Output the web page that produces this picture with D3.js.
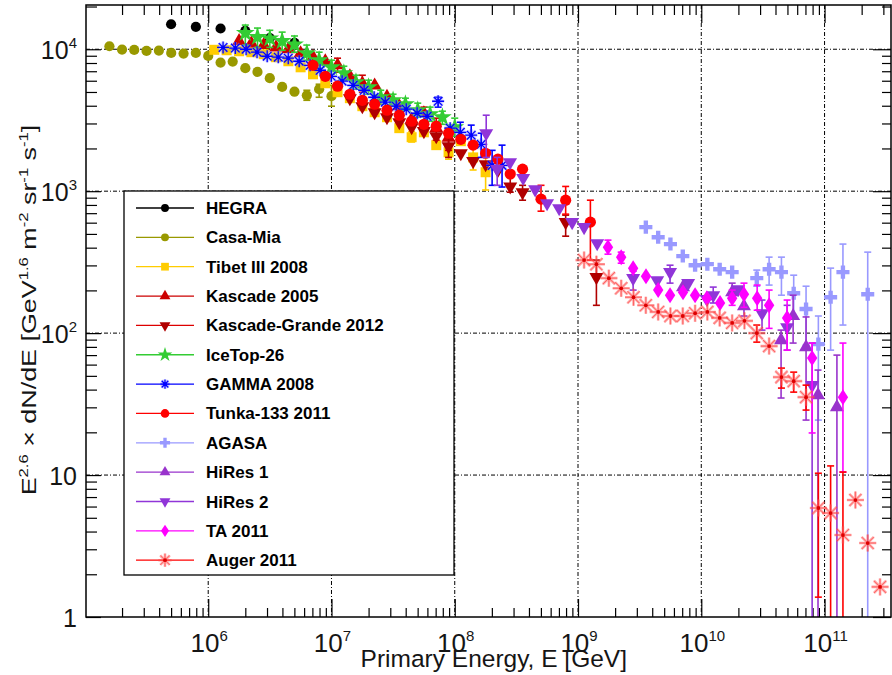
<!DOCTYPE html>
<html>
<head>
<meta charset="utf-8">
<script src="https://cdn.jsdelivr.net/npm/d3@7"></script>
<style>
  body { margin: 0; background: #fff; }
  text { font-family: Arial, "Liberation Sans", sans-serif; }
</style>
</head>
<body>
<div id="chart"></div>
<script>
// each point: [E in GeV, E^2.6 x flux, lower error, upper error]
var hegra = [[5.0e5,1.50e4],[7.94e5,1.44e4],[1.26e6,1.40e4],[2.0e6,1.35e4],[3.16e6,1.20e4],[5.01e6,1.11e4]];

var casaMia = [[1.58e5,1.05e4],[2.0e5,9.95e3],[2.51e5,9.89e3],[3.16e5,9.73e3],[3.98e5,9.79e3],[5.01e5,9.42e3],
  [6.31e5,9.33e3],[7.94e5,9.42e3],[1.0e6,8.97e3],[1.26e6,8.06e3],[1.58e6,8.19e3],[2.0e6,7.35e3],[2.51e6,6.92e3],
  [3.16e6,6.25e3],[3.98e6,5.43e3],[5.01e6,5.02e3],[6.31e6,4.74e3,4.37e3,5.14e3],[7.94e6,5.23e3,4.59e3,5.67e3],
  [1.0e7,4.67e3,3.97e3,5.57e3]];

var tibet = [[1.12e6,9.91e3],[1.41e6,9.84e3],[1.78e6,9.68e3],[2.24e6,9.53e3],[2.82e6,9.23e3],[3.55e6,8.79e3],
  [4.47e6,8.23e3],[5.62e6,7.46e3],[7.08e6,6.66e3],[8.91e6,5.76e3],[1.12e7,4.98e3],[1.41e7,4.52e3],[1.78e7,3.97e3],
  [2.24e7,3.60e3],[2.82e7,3.32e3],[3.55e7,2.78e3],[4.47e7,2.40e3,2.22e3,2.63e3],[5.62e7,2.60e3],[7.08e7,2.11e3],
  [8.91e7,1.88e3,1.68e3,2.07e3],[1.12e8,2.25e3],[1.41e8,1.73e3,1.41e3,2.01e3],[1.78e8,1.36e3,1.02e3,1.94e3]];

var kascade = [[1.78e6,1.14e4],[2.24e6,1.10e4],[2.82e6,1.07e4],[3.55e6,1.03e4],[4.47e6,1.00e4],[5.62e6,9.37e3],
  [7.08e6,8.79e3],[8.91e6,8.23e3],[1.12e7,7.71e3,6.89e3,8.65e3],[1.41e7,6.45e3],[1.78e7,5.73e3,4.98e3,6.56e3],
  [2.24e7,5.55e3],[2.82e7,4.63e3],[3.55e7,3.97e3],[4.47e7,3.20e3],[5.62e7,3.54e3,3.06e3,3.91e3],
  [7.08e7,2.78e3,2.29e3,3.27e3],[8.91e7,2.38e3,1.94e3,2.78e3]];

var kascadeGrande = [[1.41e7,4.52e3],[1.78e7,3.97e3],[2.24e7,3.60e3],[2.82e7,3.32e3],[3.55e7,3.06e3],[4.47e7,2.82e3],
  [5.62e7,2.65e3],[7.08e7,2.44e3],[8.91e7,2.07e3,1.73e3,2.56e3],[1.12e8,1.85e3],[1.41e8,1.63e3],[1.78e8,1.55e3],
  [2.24e8,1.41e3],[2.82e8,1.08e3,9.84e2,1.30e3],[3.55e8,9.84e2,8.64e2,1.10e3],[7.94e8,6.05e2,4.82e2,6.78e2],
  [1.41e9,2.48e2,1.57e2,3.27e2]];

var iceTop = [[2.0e6,1.30e4,1.07e4,1.48e4],[2.51e6,1.22e4,1.03e4,1.41e4],[3.16e6,1.19e4,1.03e4,1.36e4],
  [3.98e6,1.14e4,9.84e3,1.32e4],[5.01e6,1.08e4,9.53e3,1.24e4],[6.31e6,9.37e3,8.37e3,1.07e4],[7.94e6,8.37e3,7.35e3,9.53e3],
  [1.0e7,7.46e3,6.66e3,8.37e3],[1.26e7,6.78e3,6.05e3,7.59e3],[1.58e7,5.86e3,5.23e3,6.56e3],[2.0e7,5.40e3,4.82e3,6.05e3],
  [2.51e7,4.59e3,4.10e3,5.14e3],[3.16e7,4.37e3,3.97e3,4.82e3],[3.98e7,4.10e3,3.72e3,4.52e3],[5.01e7,3.72e3,3.32e3,4.17e3],
  [6.31e7,3.48e3,3.11e3,3.91e3],[7.94e7,3.32e3,2.96e3,3.66e3],[1.0e8,2.82e3,2.44e3,3.27e3]];

var gamma = [[1.32e6,1.03e4],[1.66e6,1.02e4],[2.03e6,1.0e4],[2.49e6,9.53e3],[3.01e6,8.93e3],[3.70e6,8.79e3],
  [4.46e6,8.65e3],[5.47e6,8.23e3],[6.71e6,7.71e3],[8.09e6,7.11e3],[9.95e6,6.45e3],[1.22e7,5.96e3],[1.50e7,5.57e3],
  [1.84e7,5.14e3],[2.22e7,4.59e3],[2.73e7,4.24e3],[3.35e7,3.97e3],[4.04e7,3.78e3],[4.95e7,3.54e3],[5.97e7,3.37e3],
  [7.33e7,4.30e3,3.91e3,4.59e3],[9.18e7,2.78e3],[1.11e8,2.60e3,2.29e3,3.06e3],[1.36e8,2.48e3,2.11e3,2.92e3],
  [1.64e8,2.14e3,1.73e3,2.56e3],[2.01e8,1.52e3,1.10e3,1.94e3],[2.42e8,1.52e3,1.07e3,2.11e3]];

var tunka = [[7.08e6,7.71e3],[8.91e6,6.45e3],[1.12e7,5.49e3],[1.41e7,4.82e3],[1.78e7,4.37e3],[2.24e7,4.10e3],
  [2.82e7,3.72e3],[3.55e7,3.43e3],[4.47e7,3.11e3],[5.62e7,2.96e3],[7.08e7,2.87e3],[8.91e7,2.56e3],[1.12e8,2.32e3],
  [1.41e8,2.11e3],[1.78e8,1.85e3],[2.24e8,1.68e3],[2.82e8,1.32e3],[3.55e8,1.43e3],[5.01e8,8.79e2,7.23e2,1.10e3],
  [7.94e8,8.64e2,6.89e2,1.08e3],[1.26e9,6.05e2,3.27e2,8.64e2]];

var agasa = [[3.55e9,5.58e2],[4.47e9,4.74e2],[5.62e9,4.24e2],[7.08e9,3.49e2],[8.91e9,3.01e2],[1.12e10,3.06e2],
  [1.41e10,2.82e2],[1.78e10,2.69e2],[2.82e10,2.44e2,2.14e2,2.78e2],[3.55e10,2.82e2,2.18e2,3.43e2],
  [4.47e10,2.69e2,1.85e2,3.43e2],[5.62e10,1.91e2,1.30e2,2.56e2],[7.08e10,1.48e2,82.3,2.14e2],[8.91e10,83.7,24.4,1.32e2],
  [1.12e11,1.79e2,75.9,2.87e2],[1.41e11,2.69e2,1.14e2,4.24e2],[2.24e11,1.88e2,1,3.72e2]];

var hiRes1 = [[7.11e9,2.11e2],[1.78e10,1.94e2,1.71e2,2.25e2],[2.22e10,1.55e2,1.32e2,1.85e2],[4.44e10,89.3,34.9,1.05e2],
  [5.56e10,1.32e2,85.1,1.85e2],[7.08e10,79.7,24.4,1.30e2],[8.85e10,36.6,1,54.9],[1.26e11,30.1,1,70.0]];

var hiRes2 = [[1.80e8,2.56e3,1.73e3,3.43e3],[2.21e8,1.43e3,1.10e3,1.73e3],[2.81e8,1.60e3],[3.59e8,1.24e3],[4.49e8,1.03e3],
  [5.61e8,8.23e2],[7.03e8,7.59e2],[8.96e8,6.05e2],[1.12e9,5.58e2],[1.43e9,4.30e2],[2.80e9,2.44e2,2.01e2,2.73e2],
  [4.39e9,2.36e2],[5.58e9,2.69e2,2.25e2,3.01e2],[7.82e9,2.25e2],[1.11e10,1.74e2],[1.25e10,1.85e2,1.63e2,2.11e2],
  [1.99e10,2.04e2],[3.11e10,1.38e2,1.05e2,1.71e2],[4.97e10,1.10e2,75.9,1.57e2],[7.93e10,43.0,1,85.1]];

var ta = [[1.75e9,4.03e2,3.60e2,4.52e2],[2.24e9,3.43e2,3.11e2,3.72e2],[2.80e9,2.87e2],[3.56e9,2.52e2],[4.47e9,2.01e2],
  [5.58e9,1.85e2],[7.11e9,1.94e2],[8.91e9,1.85e2],[1.11e10,1.76e2],[1.42e10,1.63e2],[1.78e10,1.76e2,1.57e2,2.01e2],
  [2.22e10,1.88e2,1.52e2,2.25e2],[2.84e10,1.76e2,1.45e2,2.18e2],[3.55e10,1.57e2,1.08e2,2.01e2],
  [4.97e10,1.28e2,75.9,1.71e2],[7.93e10,66.7,19.8,85.1],[1.41e11,35.4,10.5,85.1]];

var auger = [[1.12e9,3.27e2],[1.41e9,3.06e2],[1.78e9,2.44e2],[2.24e9,2.07e2],[2.82e9,1.79e2],[3.55e9,1.57e2],
  [4.47e9,1.41e2],[5.62e9,1.32e2],[7.08e9,1.32e2],[8.91e9,1.38e2],[1.12e10,1.41e2],[1.41e10,1.28e2],[1.78e10,1.18e2],
  [2.24e10,1.22e2],[2.82e10,1.0e2,86.4,1.14e2],[3.55e10,81.0],[4.47e10,49.0,41.0,56.7],[5.62e10,45.9,38.4,53.1],
  [7.08e10,35.4,28.7,43.0],[8.91e10,5.86,1.38,10.3],[1.12e11,5.40,1,11.6],[1.41e11,3.78,1,10.5],[1.78e11,6.67],
  [2.24e11,3.32],[2.82e11,1.63]];

var names = ["HEGRA", "Casa-Mia", "Tibet III 2008", "Kascade 2005", "Kascade-Grande 2012", "IceTop-26",
  "GAMMA 2008", "Tunka-133 2011", "AGASA", "HiRes 1", "HiRes 2", "TA 2011", "Auger 2011"];
var series = [hegra, casaMia, tibet, kascade, kascadeGrande, iceTop, gamma, tunka, agasa, hiRes1, hiRes2, ta, auger];

var xDecades = [1e6, 1e7, 1e8, 1e9, 1e10, 1e11];
var yDecades = [1, 10, 100, 1000, 10000];

// marker style per series
var styles = [
  {color: "#000000", shape: "circle"},
  {color: "#999900", shape: "circle"},
  {color: "#ffcc00", shape: "square"},
  {color: "#cc0000", shape: "triUp"},
  {color: "#b00000", shape: "triDown", line: "#dd0000"},
  {color: "#33cc33", shape: "star"},
  {color: "#0000ff", shape: "asterisk"},
  {color: "#ff0000", shape: "circle", size: 1.2},
  {color: "#9999ff", shape: "cross"},
  {color: "#9933cc", shape: "triUp"},
  {color: "#9035d8", shape: "triDown"},
  {color: "#ff00ff", shape: "diamond"},
  {color: "#ff0000", shape: "auger"}
];

var svgWidth = 892;
var svgHeight = 675;
var plotL = 86, plotR = 891, plotT = 5, plotB = 617;

var svg = d3.select("#chart")
  .append("svg")
  .attr("width", svgWidth)
  .attr("height", svgHeight);

var x = d3.scaleLog().domain([1.02e5, 3.46e11]).range([plotL, plotR]);
var y = d3.scaleLog().domain([1, 2.05e4]).range([plotB, plotT]);

svg.append("clipPath").attr("id", "plotClip")
  .append("rect")
  .attr("x", plotL).attr("y", plotT)
  .attr("width", plotR - plotL).attr("height", plotB - plotT);

// grid
var grid = svg.append("g")
  .attr("stroke", "#000")
  .attr("stroke-width", 1)
  .attr("stroke-dasharray", "4,2,1,2");
grid.selectAll(".vg").data(xDecades).enter().append("line")
  .attr("x1", d => x(d)).attr("x2", d => x(d))
  .attr("y1", plotT).attr("y2", plotB);
grid.selectAll(".hg").data(yDecades.slice(1)).enter().append("line")
  .attr("x1", plotL).attr("x2", plotR)
  .attr("y1", d => y(d)).attr("y2", d => y(d));

// minor tick values
var xMinor = [];
for (var d = 5; d <= 11; d++) {
  for (var k = 2; k <= 9; k++) {
    var v = k * Math.pow(10, d);
    if (v > x.domain()[0] && v < x.domain()[1]) xMinor.push(v);
  }
}
var yMinor = [];
for (var d2 = 0; d2 <= 4; d2++) {
  for (var k2 = 2; k2 <= 9; k2++) {
    var v2 = k2 * Math.pow(10, d2);
    if (v2 < y.domain()[1]) yMinor.push(v2);
  }
}

function tickAxis(axis, values, size, tx, ty) {
  var g = svg.append("g")
    .attr("transform", `translate(${tx}, ${ty})`)
    .call(axis.tickValues(values).tickSize(size).tickFormat(""));
  g.select(".domain").remove();
  g.selectAll("line").attr("stroke", "#000").attr("stroke-width", 1.2);
}
tickAxis(d3.axisTop(x), xMinor, 9, 0, plotB);
tickAxis(d3.axisTop(x), xDecades, 18, 0, plotB);
tickAxis(d3.axisBottom(x), xMinor, 10, 0, plotT);
tickAxis(d3.axisBottom(x), xDecades, 18, 0, plotT);
tickAxis(d3.axisRight(y), yMinor, 11, plotL, 0);
tickAxis(d3.axisRight(y), yDecades, 15, plotL, 0);
tickAxis(d3.axisLeft(y), yMinor, 9, plotR, 0);
tickAxis(d3.axisLeft(y), yDecades, 18, plotR, 0);

// data
var plot = svg.append("g").attr("clip-path", "url(#plotClip)");

function markerPath(shape, k) {
  switch (shape) {
    case "circle": return d3.symbol(d3.symbolCircle, 82 * k)();
    case "square": return d3.symbol(d3.symbolSquare, 100 * k)();
    case "triUp":
    case "triDown": return d3.symbol(d3.symbolTriangle, 85 * k)();
    case "star": return d3.symbol(d3.symbolStar, 110 * k)();
    case "cross": return d3.symbol(d3.symbolCross, 95 * k)();
    case "diamond":
      var w = 5.2 * Math.sqrt(k), h = 8 * Math.sqrt(k);
      return `M0,${-h}L${w},0L0,${h}L${-w},0Z`;
    case "asterisk":
      var r = 6 * Math.sqrt(k), a = r * 0.72;
      return `M${-r},0L${r},0M0,${-r}L0,${r}M${-a},${-a}L${a},${a}M${-a},${a}L${a},${-a}`;
    case "auger":
      var r2 = 8.5 * Math.sqrt(k), a2 = r2 * 0.72;
      return `M${-r2},0L${r2},0M0,${-r2}L0,${r2}M${-a2},${-a2}L${a2},${a2}M${-a2},${a2}L${a2},${-a2}`;
  }
}

function drawMarker(g, st, k) {
  var p = markerPath(st.shape, k * (st.size || 1));
  if (st.shape === "asterisk") {
    g.append("path").attr("d", p).attr("fill", "none")
      .attr("stroke", "#8888ff").attr("stroke-width", 3.2).attr("opacity", 0.45);
    g.append("path").attr("d", p).attr("fill", "none")
      .attr("stroke", st.color).attr("stroke-width", 1.3);
    g.append("circle").attr("r", 1.8).attr("fill", st.color);
  } else if (st.shape === "auger") {
    g.append("path").attr("d", p).attr("fill", "none")
      .attr("stroke", "#ff6060").attr("stroke-width", 2.6).attr("opacity", 0.55);
    g.append("path").attr("d", p).attr("fill", "none")
      .attr("stroke", "#ff3030").attr("stroke-width", 0.8).attr("opacity", 0.7);
    g.append("circle").attr("r", 1.9).attr("fill", "#dd0000");
  } else {
    var mp = g.append("path").attr("d", p).attr("fill", st.color);
    if (st.shape === "triDown") mp.attr("transform", "rotate(180)");
  }
}

series.forEach(function(data, i) {
  var st = styles[i];
  var sg = plot.append("g");

  // error bars
  var bars = data.filter(p => p.length > 2);
  bars.forEach(function(p) {
    var cx = x(p[0]);
    var yHi = y(p[3]);
    var yLo = p[2] > 1 ? y(p[2]) : plotB + 2;
    var eb = sg.append("g").attr("stroke", st.color).attr("stroke-width", 1.6);
    eb.append("line").attr("x1", cx).attr("x2", cx).attr("y1", yHi).attr("y2", yLo);
    eb.append("line").attr("x1", cx - 3.5).attr("x2", cx + 3.5).attr("y1", yHi).attr("y2", yHi);
    if (p[2] > 1) {
      eb.append("line").attr("x1", cx - 3.5).attr("x2", cx + 3.5).attr("y1", yLo).attr("y2", yLo);
    }
  });

  data.forEach(function(p) {
    var mg = sg.append("g").attr("transform", `translate(${x(p[0])}, ${y(p[1])})`);
    drawMarker(mg, st, 1);
  });
});

// frame
svg.append("rect")
  .attr("x", plotL).attr("y", plotT)
  .attr("width", plotR - plotL).attr("height", plotB - plotT)
  .attr("fill", "none").attr("stroke", "#000").attr("stroke-width", 1.5);

// legend
var legend = svg.append("g");
legend.append("rect")
  .attr("x", 124).attr("y", 191).attr("width", 330).attr("height", 384)
  .attr("fill", "#fff").attr("stroke", "#000").attr("stroke-width", 1.3);

names.forEach(function(name, i) {
  var st = styles[i];
  var ry = 208 + i * 29.35;
  legend.append("line")
    .attr("x1", 136).attr("x2", 194).attr("y1", ry).attr("y2", ry)
    .attr("stroke", st.line || st.color).attr("stroke-width", 1.3);
  var mg = legend.append("g").attr("transform", `translate(165, ${ry})`);
  drawMarker(mg, st, 0.6);
  legend.append("text")
    .attr("x", 206).attr("y", ry + 6)
    .attr("font-size", "17px").attr("font-weight", "bold")
    .attr("fill", "#000")
    .text(name);
});

// tick labels
var labelColor = "#151515";
function powerLabel(sel, exp) {
  if (exp === 0) { sel.append("tspan").text("1"); return; }
  if (exp === 1) { sel.append("tspan").text("10"); return; }
  sel.append("tspan").text("10");
  sel.append("tspan").attr("dy", -11).attr("font-size", "15px").text(exp);
}

yDecades.forEach(function(v) {
  var t = svg.append("text")
    .attr("x", 77).attr("y", y(v) + 10)
    .attr("text-anchor", "end")
    .attr("font-size", "25px")
    .attr("fill", labelColor);
  powerLabel(t, Math.round(Math.log10(v)));
});

xDecades.forEach(function(v) {
  var t = svg.append("text")
    .attr("x", x(v) + 1).attr("y", plotB + 35)
    .attr("text-anchor", "middle")
    .attr("font-size", "26px")
    .attr("fill", labelColor);
  powerLabel(t, Math.round(Math.log10(v)));
});

// axis titles
svg.append("text")
  .attr("x", 627).attr("y", 667)
  .attr("text-anchor", "end")
  .attr("font-size", "24.5px")
  .attr("fill", labelColor)
  .text("Primary Energy, E [GeV]");

var yParts = [["E", 0], ["2.6", 1], [" \u00d7 dN/dE [GeV", 0], ["1.6", 1], [" m", 0], ["-2", 1],
  [" sr", 0], ["-1", 1], [" s", 0], ["-1", 1], ["]", 0]];
var yTitle = svg.append("text")
  .attr("transform", "translate(36, 310) rotate(-90) scale(1.28, 1)")
  .attr("text-anchor", "middle")
  .attr("font-size", "21px")
  .attr("fill", labelColor);
var raised = false;
yParts.forEach(function(part) {
  var ts = yTitle.append("tspan").text(part[0]);
  if (part[1] && !raised) { ts.attr("dy", -8).attr("font-size", "13px"); raised = true; }
  else if (part[1]) { ts.attr("font-size", "13px"); }
  else if (raised) { ts.attr("dy", 8); raised = false; }
});
</script>
</body>
</html>
